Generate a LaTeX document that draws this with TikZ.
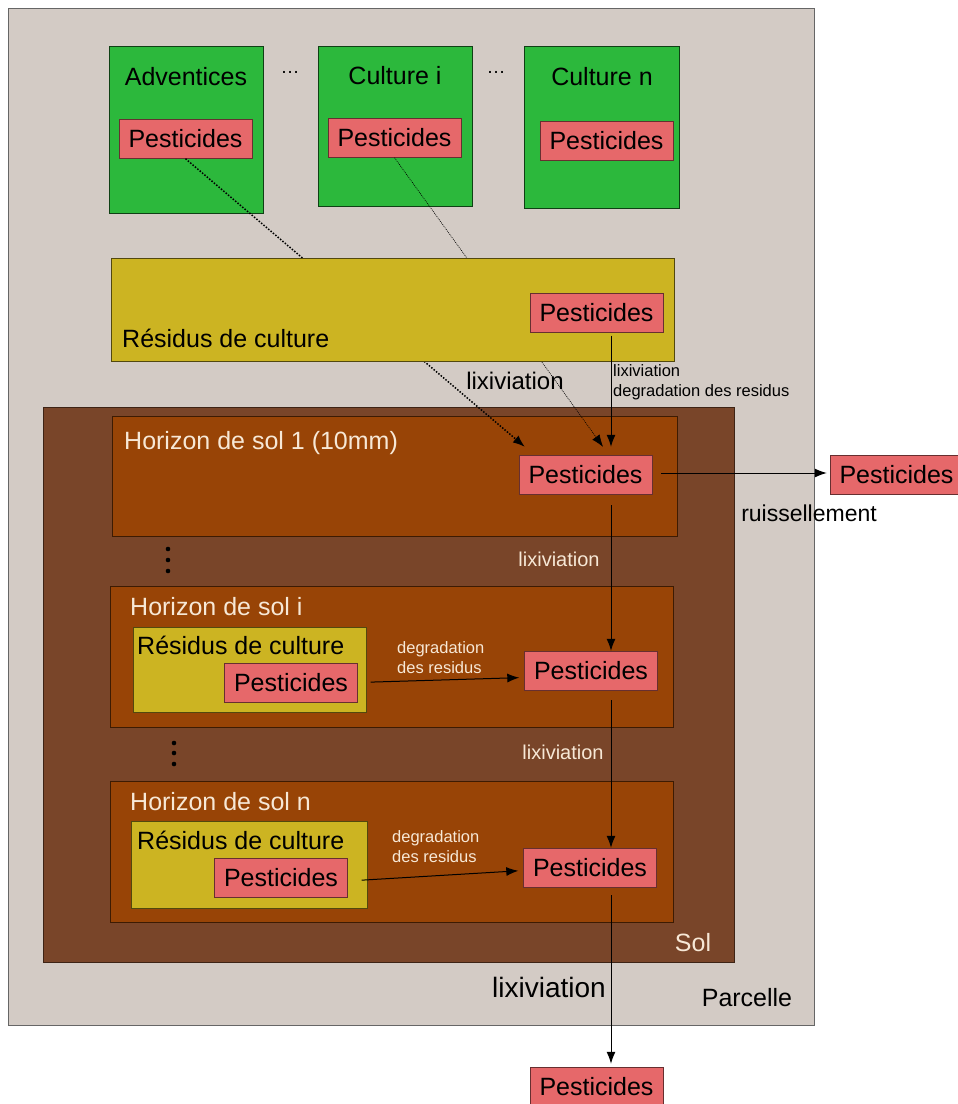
\documentclass[tikz,border=0pt]{standalone}
\usepackage{fontspec}
\setmainfont{Liberation Sans}
\usetikzlibrary{arrows.meta}
\definecolor{parcelbg}{RGB}{211,203,197}
\definecolor{plantgreen}{RGB}{44,184,60}
\definecolor{pestred}{RGB}{230,104,106}
\definecolor{residyellow}{RGB}{204,180,34}
\definecolor{solbrown}{RGB}{121,69,41}
\definecolor{horizonbrown}{RGB}{152,68,6}
\definecolor{paletext}{RGB}{247,232,214}

\tikzset{
  bigtext/.style={font=\fontsize{25}{30}\selectfont, inner sep=0pt},
  midtext/.style={font=\fontsize{20}{24}\selectfont, inner sep=0pt},
  smalltext/.style={font=\fontsize{16.5}{20}\selectfont, inner sep=0pt, align=left},
  pest/.style={draw=pestred!45!black, fill=pestred, minimum width=133pt,
    minimum height=39pt, inner sep=0pt, font=\fontsize{25}{30}\selectfont},
  flow/.style={-{Latex[length=12pt,width=9pt]}, line width=1pt},
}

\begin{document}
\begin{tikzpicture}[x=1pt, y=-1pt]
    \useasboundingbox (0,0) rectangle (958,1104);

    % Parcelle et sol
    \draw[draw=black!60, fill=parcelbg] (8,8) rectangle (814,1025);
    \node[bigtext] (parcelle) at (747,998) {Parcelle};
    \draw[draw=solbrown!50!black, fill=solbrown] (43,407) rectangle (734,962);
    \node[bigtext, text=paletext] (sol) at (693,943) {Sol};

    % Horizons de sol
    \draw[draw=horizonbrown!40!black, fill=horizonbrown] (112,416) rectangle (677,536);
    \node[bigtext, text=paletext, anchor=west] (h1) at (124,443) {Horizon de sol 1 (10mm)};
    \draw[draw=horizonbrown!40!black, fill=horizonbrown] (110,586) rectangle (673,727);
    \node[bigtext, text=paletext, anchor=west] (hi) at (130,607) {Horizon de sol i};
    \draw[draw=horizonbrown!40!black, fill=horizonbrown] (110,781) rectangle (673,922);
    \node[bigtext, text=paletext, anchor=west] (hn) at (130,802) {Horizon de sol n};
    \foreach \y in {549,560,571} \fill (168,\y) circle (2.3);
    \foreach \y in {743,753,764} \fill (174,\y) circle (2.3);

    % Cultures
    \draw[draw=plantgreen!35!black, fill=plantgreen] (109,46) rectangle (263,213);
    \node[bigtext] (adv) at (186,77) {Adventices};
    \node[pest] (pa) at (185.5,139) {Pesticides};
    \node[font=\fontsize{19}{22}\selectfont, inner sep=0pt] (dots1) at (290,72) {…};
    \draw[draw=plantgreen!35!black, fill=plantgreen] (318,46) rectangle (472,206);
    \node[bigtext] (ci) at (395,76) {Culture i};
    \node[pest] (pci) at (394.5,138) {Pesticides};
    \node[font=\fontsize{19}{22}\selectfont, inner sep=0pt] (dots2) at (496,72) {…};
    \draw[draw=plantgreen!35!black, fill=plantgreen] (524,46) rectangle (679,208);
    \node[bigtext] (cn) at (602,77) {Culture n};
    \node[pest] (pcn) at (606.5,141) {Pesticides};

    % Pesticides dans le sol
    \node[pest] (p1) at (585.5,474.5) {Pesticides};
    \node[pest] (pi) at (591,670.5) {Pesticides};
    \node[pest] (pn) at (590,867.5) {Pesticides};
    \node[pest] (pout) at (896.5,474.5) {Pesticides};
    \node[pest] (pbot) at (596.5,1086.5) {Pesticides};
    \coordinate (vx) at (611,0);

    % Lixiviation depuis les cultures (sous les residus)
    \draw[flow, line width=1.5pt, dash pattern=on 1.5pt off 1.6pt] (pa.south)
        -- ([xshift=6pt,yshift=8pt]p1.north west);
    \draw[flow, line width=0.6pt, dash pattern=on 1pt off 1pt] (pci.south)
        -- ([xshift=17.5pt,yshift=8pt]p1.north);

    % Residus de culture en surface
    \draw[draw=residyellow!40!black, fill=residyellow] (111,258) rectangle (674,361);
    \node[bigtext, anchor=west] (res) at (122,338) {Résidus de culture};
    \node[pest] (pr) at (596.5,313) {Pesticides};
    \draw[flow, shorten <=3pt, shorten >=8pt] (pr.south -| vx) -- (p1.north -| vx);
    \node[bigtext, font=\fontsize{24}{28}\selectfont] (lix0) at (515,381) {lixiviation};
    \node[smalltext, anchor=west] (lixdeg) at (613,382) {lixiviation\\degradation des residus};

    % Ruissellement
    \draw[flow, shorten <=9pt, shorten >=3pt] (p1.east |- 0,473) -- (pout.west |- 0,473);
    \node[bigtext, font=\fontsize{23}{28}\selectfont] (ruis) at (809,513) {ruissellement};

    % Residus dans les horizons
    \draw[draw=residyellow!40!black, fill=residyellow] (133,627) rectangle (366,712);
    \node[bigtext, anchor=west] (resi) at (137,645) {Résidus de culture};
    \node[pest] (rpi) at (291,682.5) {Pesticides};
    \draw[draw=residyellow!40!black, fill=residyellow] (131,821) rectangle (367,908);
    \node[bigtext, anchor=west] (resn) at (137,840) {Résidus de culture};
    \node[pest] (rpn) at (281,878) {Pesticides};

    % Degradation des residus
    \draw[flow, shorten <=13pt, shorten >=5pt] (rpi.east) -- ([yshift=-7pt]pi.west);
    \node[smalltext, text=paletext, anchor=west] (degi) at (397,658) {degradation\\des residus};
    \draw[flow, shorten <=14pt, shorten >=5pt] ([yshift=-3pt]rpn.east) -- ([yshift=-3pt]pn.west);
    \node[smalltext, text=paletext, anchor=west] (degn) at (392,847) {degradation\\des residus};

    % Lixiviation entre horizons
    \draw[flow, shorten <=11pt] (p1.south -| vx) -- (pi.north -| vx);
    \node[midtext, text=paletext] (lix1) at (559,559) {lixiviation};
    \draw[flow, shorten <=10pt] (pi.south -| vx) -- (pn.north -| vx);
    \node[midtext, text=paletext] (lix2) at (563,752) {lixiviation};
    \draw[flow, shorten <=8pt, shorten >=3pt] (pn.south -| vx) -- (pbot.north -| vx);
    \node[bigtext, font=\fontsize{28}{32}\selectfont] (lix3) at (549,987) {lixiviation};
\end{tikzpicture}
\end{document}
